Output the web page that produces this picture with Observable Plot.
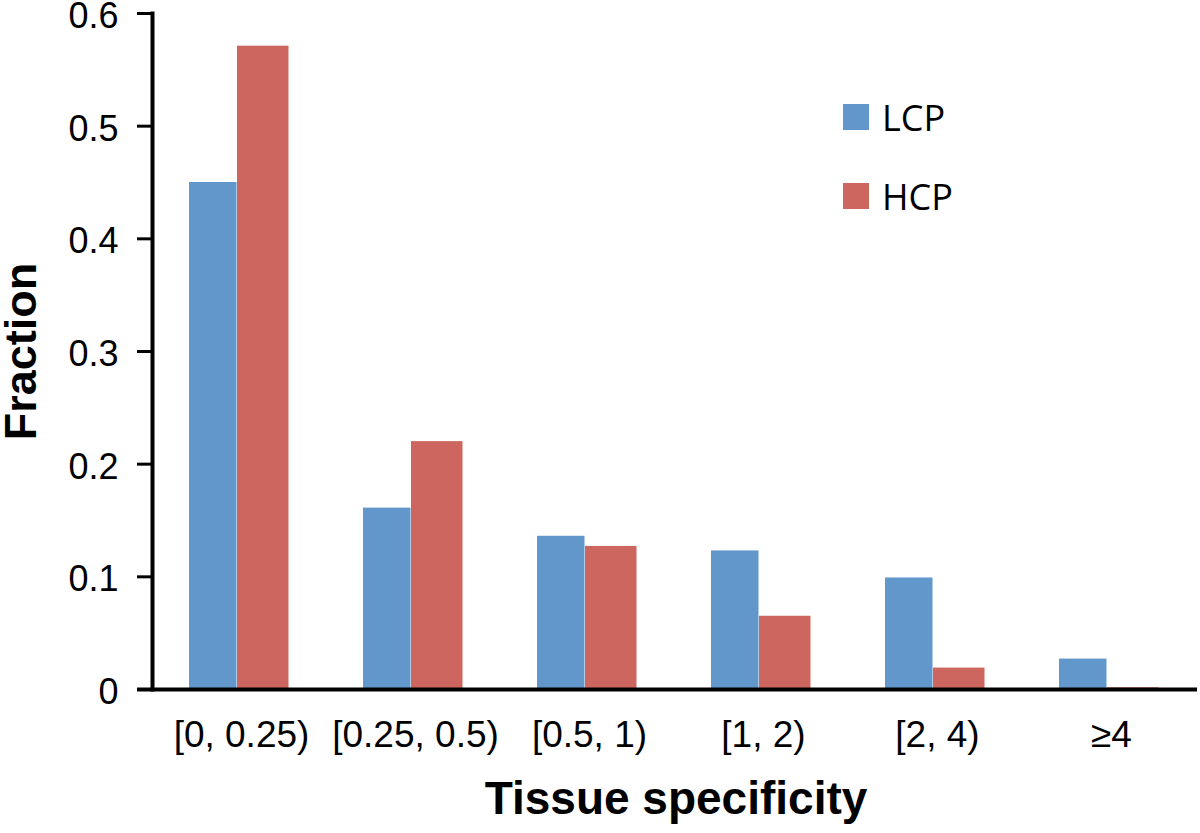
<!DOCTYPE html>
<html>
<head>
<meta charset="utf-8">
<script src="https://cdn.jsdelivr.net/npm/d3@7"></script>
<script src="https://cdn.jsdelivr.net/npm/@observablehq/plot@0.6"></script>
<style>
  html, body { margin: 0; padding: 0; background: #fff; }
  #wrap { position: relative; width: 1200px; height: 833px; }
  .leg { position: absolute; font-family: "Open Sans", "Noto Sans", sans-serif; font-size: 36px; color: #000; display: flex; align-items: center; }
  .sw { width: 26px; height: 26px; margin-right: 13px; }
</style>
</head>
<body>
<div id="wrap"></div>
<script>
const categories = ["[0, 0.25)", "[0.25, 0.5)", "[0.5, 1)", "[1, 2)", "[2, 4)", "≥4"];
const seriesNames = ["LCP", "HCP"];
const lcpValues = [0.450, 0.161, 0.136, 0.123, 0.099, 0.027];
const hcpValues = [0.571, 0.220, 0.127, 0.065, 0.019, 0.0015];
const yTicks = [0, 0.1, 0.2, 0.3, 0.4, 0.5, 0.6];
const colors = ["#6297CB", "#CC665F"];

const lcpRows = categories.map((c, i) => ({cat: c, series: "LCP", value: lcpValues[i]}));
const hcpRows = categories.map((c, i) => ({cat: c, series: "HCP", value: hcpValues[i]}));

const W = 1200, H = 833, mL = 152, mR = 1;
const bw = (W - mL - mR) / categories.length;

const chart = Plot.plot({
  width: W,
  height: H,
  marginLeft: mL,
  marginRight: mR,
  marginTop: 13,
  marginBottom: 144,
  style: {fontFamily: "'Liberation Sans', Arial, sans-serif", background: "#fff", color: "#000", overflow: "visible"},
  x: {domain: categories, padding: 0, label: null},
  y: {domain: [0, 0.6], label: null},
  marks: [
    Plot.barY(lcpRows, {x: "cat", y: "value", fill: colors[0], insetLeft: 35, insetRight: bw - 83}),
    Plot.barY(hcpRows, {x: "cat", y: "value", fill: colors[1], insetLeft: 83, insetRight: bw - 135}),
    Plot.axisY({ticks: yTicks, tickFormat: () => "", tickSize: 15, strokeWidth: 3, label: null}),
    Plot.axisY({ticks: yTicks, tickFormat: d => String(d), tickSize: 0, tickPadding: 34, dy: 3, fontSize: 36, label: null}),
    Plot.axisX({tickSize: 0, tickPadding: 31, fontSize: 37, label: null}),
    Plot.ruleY([0], {strokeWidth: 4, insetLeft: -15, insetRight: 2}),
    Plot.frame({anchor: "left", strokeWidth: 4}),
    Plot.text(["Tissue specificity"], {frameAnchor: "bottom", dy: 124, fontSize: 46, fontWeight: "bold", fill: "#000"}),
    Plot.text(["Fraction"], {frameAnchor: "left", dx: -131, rotate: -90, textAnchor: "middle", fontSize: 45, fontWeight: "bold", fill: "#000"})
  ]
});

const wrap = document.getElementById("wrap");
wrap.appendChild(chart);

const legendTops = [104, 183];
seriesNames.forEach((name, i) => {
  const d = document.createElement("div");
  d.className = "leg";
  d.style.left = "843px";
  d.style.top = (legendTops[i] - 4) + "px";
  d.style.height = "34px";
  d.innerHTML = `<div class="sw" style="background:${colors[i]}"></div><span>${name}</span>`;
  wrap.appendChild(d);
});
</script>
</body>
</html>
